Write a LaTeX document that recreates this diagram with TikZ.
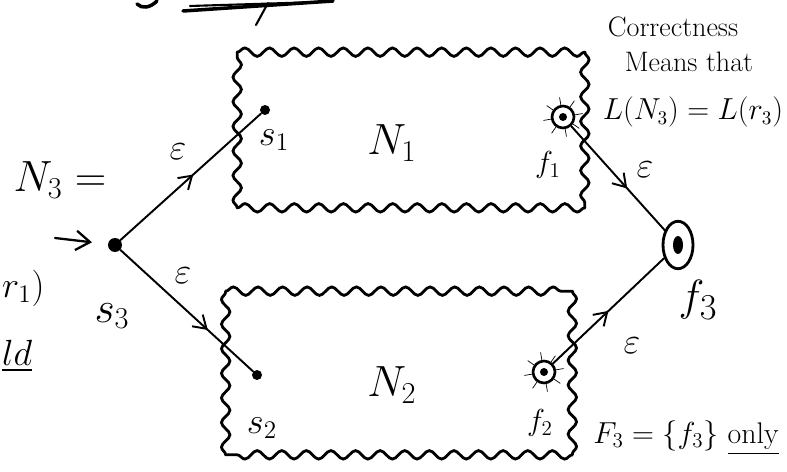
\documentclass[tikz,border=0pt]{standalone}
\usepackage{amsmath,amssymb}
\usetikzlibrary{arrows.meta,calc,positioning,decorations.pathmorphing,decorations.markings,shapes.geometric}

\tikzset{
  hand/.style={font=\fontsize{#1}{#1}\selectfont},
  state/.style={circle, fill, inner sep=0pt, minimum size=0.2cm},
  final/.style={circle, draw, line width=1.5pt, inner sep=0pt, minimum size=0.44cm},
  machine/.style={inner sep=0pt},
  wavy/.style={line width=1.6pt, decorate,
    decoration={snake, segment length=14pt, amplitude=2.4pt}},
  epsedge/.style={line width=1.1pt, postaction={decorate},
    decoration={markings, mark=at position #1 with {\arrow{Straight Barb[length=7pt,width=9pt]}}}},
}

\begin{document}
\begin{tikzpicture}[x=0.02cm, y=-0.02cm, line cap=round]
  \useasboundingbox (0,0) rectangle (787,472);

  % cut-off scribbles at the edges
  \draw[line width=2pt] (137,4) .. controls (142,9) and (150,8) .. (157,1);
  \draw[line width=2pt] (183,11) -- (333,1);
  \draw[line width=1.2pt] (190,6) -- (320,2);
  \draw[line width=1.2pt] (256,25) -- (268,3);
  \node[hand=20, anchor=west] (leftone) at (-4,288) {$r_1)$};
  \node[hand=20, anchor=west] (lefttwo) at (-4,356) {\underline{$ld$}};

  % the two machines
  \node[machine, minimum width=6.94cm, minimum height=3.1cm] (boxone) at (411,130) {};
  \node[machine, minimum width=6.92cm, minimum height=3.26cm] (boxtwo) at (399,373) {};
  \foreach \b in {boxone,boxtwo} {
    \foreach \p/\q in {north west/north east, north east/south east,
                       south east/south west, south west/north west} {
      \draw[wavy] (\b.\p) -- (\b.\q);
    }
  }
  \node[hand=26] (none) at (392,143) {$N_1$};
  \node[hand=26] (ntwo) at (392,385) {$N_2$};

  % states
  \node[state, minimum size=0.28cm] (sthree) at (115,245) {};
  \node[state] (sone) at (265,110) {};
  \node[state] (stwo) at (257,375) {};
  \node[final] (fone) at (563,117) {};
  \node[final] (ftwo) at (544,372) {};
  \node[draw, ellipse, line width=1.6pt, inner sep=0pt, minimum width=0.6cm, minimum height=0.95cm] (fthree) at (678,245) {};
  \fill (fone) circle (0.08cm);
  \fill (ftwo) circle (0.08cm);
  \fill (fthree) ellipse (0.1cm and 0.18cm);
  \foreach \a in {10,55,...,325} {
    \draw[thin] (fone.\a) -- ($(fone.center)!1.6!(fone.\a)$);
    \draw[thin] (ftwo.\a) -- ($(ftwo.center)!1.6!(ftwo.\a)$);
  }

  \node[hand=26] (nthree) at (60,180) {$N_3 =$};
  \coordinate (startpt) at (55,238);
  \draw[-{Straight Barb[length=8pt,width=11pt]}, line width=1.3pt, shorten >=9pt] (startpt) -- (sthree);

  % epsilon moves
  \draw[epsedge=0.52] (sthree) -- (sone);
  \draw[epsedge=0.66] (sthree) -- (stwo);
  \draw[epsedge=0.6] (fone) -- (fthree);
  \draw[epsedge=0.5] (ftwo) -- (fthree);
  \node[hand=22] (epsa) at (178,152) {$\varepsilon$};
  \node[hand=22] (epsb) at (183,276) {$\varepsilon$};
  \node[hand=22] (epsc) at (645,170) {$\varepsilon$};
  \node[hand=22] (epsd) at (632,346) {$\varepsilon$};

  % state labels
  \node[hand=20] (lsone) at (274,140) {$s_1$};
  \node[hand=20] (lstwo) at (262,428) {$s_2$};
  \node[hand=24] (lsthree) at (112,316) {$s_3$};
  \node[hand=18] (lfone) at (548,165) {$f_1$};
  \node[hand=18] (lftwo) at (540,423) {$f_2$};
  \node[hand=28] (lfthree) at (698,300) {$f_3$};

  % notes
  \node[hand=16] (notea) at (673,27) {Correctness};
  \node[hand=16] (noteb) at (689,62) {Means that};
  \node[hand=16] (notec) at (693,112) {$L(N_3)=L(r_3)$};
  \node[hand=17] (noted) at (686,438) {$F_3=\{f_3\}$ \underline{only}};
\end{tikzpicture}
\end{document}
